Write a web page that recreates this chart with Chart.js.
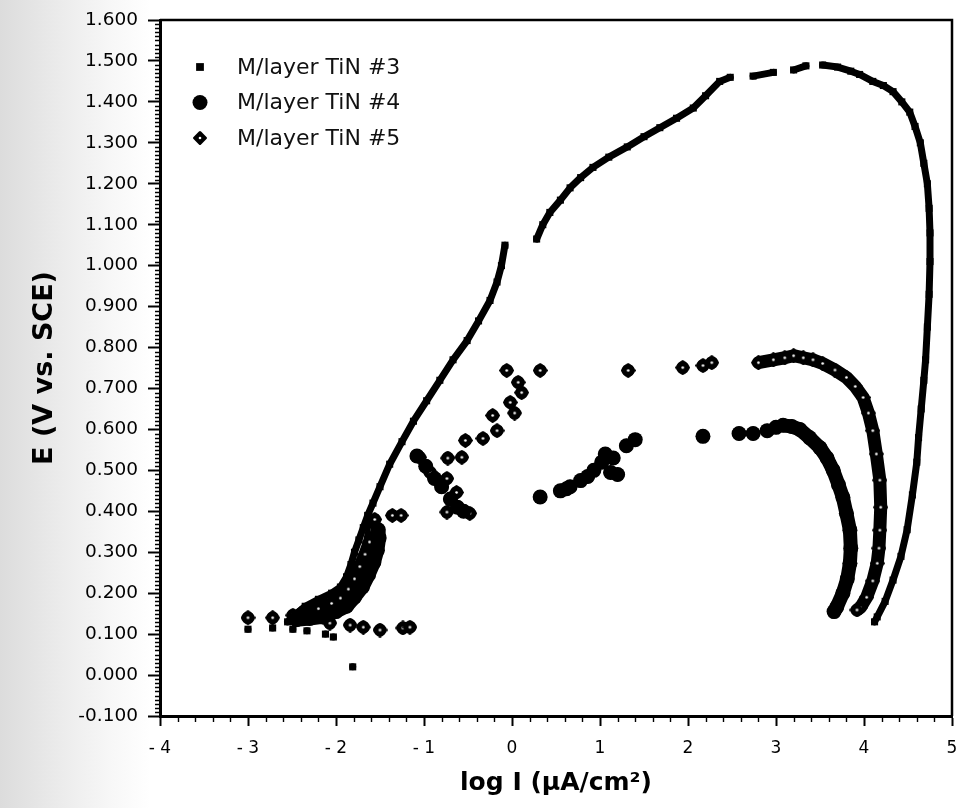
<!DOCTYPE html>
<html>
<head>
<meta charset="utf-8">
<script src="https://cdn.jsdelivr.net/npm/chart.js@4/dist/chart.umd.min.js"></script>
<style>
  html, body { margin: 0; padding: 0; }
  body {
    width: 961px; height: 808px; overflow: hidden;
    background: linear-gradient(90deg, #dcdcdc 0px, #eaeaea 55px, #f7f7f7 110px, #ffffff 150px);
  }
  canvas { display: block; }
</style>
</head>
<body>
<canvas id="polarization" width="961" height="808"></canvas>
<script>
// ---- Series names and axis tick labels ----
const seriesNames = ['M/layer TiN #3', 'M/layer TiN #4', 'M/layer TiN #5'];
const eTickLabels = ['-0.100', '0.000', '0.100', '0.200', '0.300', '0.400', '0.500', '0.600', '0.700',
                     '0.800', '0.900', '1.000', '1.100', '1.200', '1.300', '1.400', '1.500', '1.600'];
const logITickLabels = ['- 4', '- 3', '- 2', '- 1', '0', '1', '2', '3', '4', '5'];

// ---- M/layer TiN #3 : [log I, E] ----
const tin3Scatter = [[-3.00, 0.112], [-2.72, 0.115], [-2.49, 0.112], [-2.33, 0.108], [-2.12, 0.100],
                     [-2.03, 0.093], [-1.81, 0.020]];
const tin3Rise = [[-2.55, 0.130], [-2.45, 0.150], [-2.35, 0.168], [-2.20, 0.185], [-2.05, 0.200],
                  [-1.95, 0.215], [-1.88, 0.240], [-1.83, 0.270], [-1.79, 0.300], [-1.74, 0.330],
                  [-1.69, 0.360], [-1.64, 0.390], [-1.58, 0.420], [-1.50, 0.460], [-1.39, 0.515],
                  [-1.25, 0.570], [-1.12, 0.620], [-0.97, 0.670], [-0.82, 0.720], [-0.67, 0.770],
                  [-0.51, 0.817], [-0.38, 0.865], [-0.25, 0.915], [-0.17, 0.960], [-0.12, 1.000],
                  [-0.08, 1.050]];
const tin3Upper = [[0.28, 1.065], [0.35, 1.100], [0.43, 1.130], [0.55, 1.160], [0.66, 1.190],
                   [0.78, 1.215], [0.92, 1.240], [1.10, 1.265], [1.31, 1.290], [1.50, 1.315],
                   [1.68, 1.337], [1.87, 1.360], [2.06, 1.385], [2.20, 1.415], [2.36, 1.450],
                   [2.48, 1.460]];
const tin3Dash1 = [[2.74, 1.463], [2.97, 1.472]];
const tin3Dash2 = [[3.20, 1.478], [3.34, 1.488]];
const tin3Return = [[3.53, 1.490], [3.70, 1.485], [3.85, 1.475], [3.95, 1.467], [4.10, 1.450],
                    [4.22, 1.440], [4.33, 1.425], [4.43, 1.400], [4.52, 1.375], [4.58, 1.340],
                    [4.64, 1.300], [4.68, 1.250], [4.72, 1.200], [4.74, 1.140], [4.75, 1.080],
                    [4.75, 1.010], [4.74, 0.930], [4.72, 0.850], [4.70, 0.770], [4.68, 0.720],
                    [4.65, 0.650], [4.62, 0.580], [4.60, 0.520], [4.55, 0.440], [4.49, 0.355],
                    [4.42, 0.290], [4.33, 0.232], [4.24, 0.180], [4.15, 0.142], [4.12, 0.130]];

// ---- M/layer TiN #4 : [log I, E] ----
const tin4Rise = [[-2.45, 0.135], [-2.30, 0.138], [-2.15, 0.142], [-2.00, 0.155], [-1.88, 0.168],
                  [-1.79, 0.190], [-1.70, 0.215], [-1.63, 0.245], [-1.57, 0.275], [-1.53, 0.305],
                  [-1.51, 0.335], [-1.52, 0.355]];
const tin4Scatter = [[-1.08, 0.535], [-0.98, 0.510], [-0.88, 0.480], [-0.80, 0.460], [-0.70, 0.430],
                     [-0.62, 0.410], [-0.55, 0.400], [0.32, 0.435], [0.55, 0.450], [0.62, 0.455],
                     [0.66, 0.460], [0.78, 0.475], [0.86, 0.485], [0.93, 0.500], [1.02, 0.520],
                     [1.06, 0.540], [1.12, 0.495], [1.20, 0.490], [1.15, 0.530], [1.30, 0.560],
                     [1.40, 0.575], [2.17, 0.583], [2.58, 0.590], [2.74, 0.590], [2.90, 0.597],
                     [3.00, 0.605]];
const tin4Return = [[3.08, 0.610], [3.18, 0.607], [3.27, 0.600], [3.38, 0.580], [3.50, 0.555],
                    [3.58, 0.530], [3.65, 0.500], [3.71, 0.465], [3.76, 0.434], [3.80, 0.395],
                    [3.84, 0.354], [3.85, 0.310], [3.84, 0.273], [3.81, 0.235], [3.76, 0.200],
                    [3.69, 0.166], [3.66, 0.155]];

// ---- M/layer TiN #5 : [log I, E] ----
const tin5Base = [[-3.00, 0.140], [-2.72, 0.140], [-2.49, 0.146], [-2.07, 0.127], [-1.84, 0.122],
                  [-1.69, 0.117], [-1.50, 0.110], [-1.24, 0.115], [-1.16, 0.117]];
const tin5Rise = [[-2.40, 0.150], [-2.20, 0.162], [-2.05, 0.175], [-1.95, 0.188], [-1.86, 0.210],
                  [-1.79, 0.235], [-1.73, 0.265], [-1.67, 0.295], [-1.62, 0.325], [-1.59, 0.355],
                  [-1.56, 0.380]];
const tin5Scatter = [[-1.36, 0.390], [-1.26, 0.390], [-1.05, 0.532], [-0.93, 0.495], [-0.74, 0.480],
                     [-0.73, 0.530], [-0.63, 0.446], [-0.74, 0.398], [-0.48, 0.395], [-0.57, 0.532],
                     [-0.53, 0.573], [-0.33, 0.578], [-0.22, 0.634], [-0.17, 0.597], [-0.02, 0.666],
                     [0.03, 0.640], [0.11, 0.690], [0.07, 0.715], [-0.06, 0.744], [0.32, 0.744],
                     [1.32, 0.744], [1.94, 0.751], [2.17, 0.756], [2.27, 0.763]];
const tin5Return = [[2.80, 0.763], [2.97, 0.770], [3.10, 0.775], [3.20, 0.780], [3.31, 0.775],
                    [3.42, 0.770], [3.53, 0.761], [3.67, 0.745], [3.80, 0.727], [3.90, 0.705],
                    [3.99, 0.678], [4.05, 0.640], [4.10, 0.597], [4.14, 0.540], [4.18, 0.476],
                    [4.19, 0.410], [4.18, 0.354], [4.17, 0.310], [4.15, 0.273], [4.10, 0.230],
                    [4.03, 0.190], [3.96, 0.165], [3.92, 0.159]];

// ---- helpers ----
const FONT = "'DejaVu Sans', 'Liberation Sans', sans-serif";
const GAP = null;

// Continuous sweep: points joined by the trace line.
function sweep(run) { return run.map(p => ({ x: p[0], y: p[1] })); }
// Isolated readings: a break after every point so no line joins them.
function dots(run) {
  const out = [];
  run.forEach(p => { out.push({ x: p[0], y: p[1] }); out.push({ x: p[0], y: GAP }); });
  return out;
}
function series(parts) {
  const out = [];
  parts.forEach(part => { out.push(...part); const last = part[part.length - 1]; out.push({ x: last.x, y: GAP }); });
  return out;
}

// Diamond marker with a white centre dot.
function dottedDiamond(size) {
  const c = document.createElement('canvas');
  c.width = c.height = size;
  const g = c.getContext('2d');
  const h = size / 2;
  g.fillStyle = '#000'; g.strokeStyle = '#000';
  g.lineJoin = 'round'; g.lineWidth = 3;
  g.beginPath();
  g.moveTo(h, 1.6); g.lineTo(size - 1.6, h); g.lineTo(h, size - 1.6); g.lineTo(1.6, h);
  g.closePath(); g.fill(); g.stroke();
  g.fillStyle = '#fff';
  g.beginPath(); g.arc(h, h, 1.3, 0, Math.PI * 2); g.fill();
  return c;
}
const diamondMark = dottedDiamond(15);
const diamondLegend = dottedDiamond(14);

// Minor tick marks on both axes.
const minorTicks = {
  id: 'minorTicks',
  afterDraw(chart) {
    const { ctx, chartArea: a, scales: { x, y } } = chart;
    ctx.save();
    ctx.strokeStyle = '#000';
    ctx.lineWidth = 1.4;
    ctx.beginPath();
    for (let k = -10; k <= 160; k++) {
      if (k % 10 === 0) continue;
      const py = Math.round(y.getPixelForValue(k / 100)) + 0.5;
      ctx.moveTo(a.left - 5, py); ctx.lineTo(a.left, py);
    }
    for (let k = -20; k <= 25; k++) {
      if (k % 5 === 0) continue;
      const px = Math.round(x.getPixelForValue(k / 5)) + 0.5;
      ctx.moveTo(px, a.bottom); ctx.lineTo(px, a.bottom + 6);
    }
    ctx.stroke();
    ctx.restore();
  }
};

// Top and right edges of the plot frame.
const frame = {
  id: 'frame',
  afterDraw(chart) {
    const { ctx, chartArea: a } = chart;
    ctx.save();
    ctx.strokeStyle = '#000';
    ctx.lineWidth = 2.5;
    ctx.beginPath();
    ctx.moveTo(a.left, a.top); ctx.lineTo(a.right, a.top); ctx.lineTo(a.right, a.bottom);
    ctx.stroke();
    ctx.restore();
  }
};

// Legend inside the upper-left corner of the plot.
const insetLegend = {
  id: 'insetLegend',
  afterDraw(chart) {
    const { ctx, chartArea: a } = chart;
    ctx.save();
    chart.data.datasets.forEach((ds, i) => {
      const cy = a.top + 47 + i * 35.5;
      const cx = a.left + 40;
      ctx.fillStyle = '#000';
      ctx.strokeStyle = '#000';
      Chart.helpers.drawPoint(ctx, {
        pointStyle: ds.legendStyle, radius: ds.legendRadius, borderWidth: 0, rotation: 0
      }, cx, cy);
      ctx.fillStyle = '#111';
      ctx.font = '22px ' + FONT;
      ctx.textBaseline = 'middle';
      ctx.textAlign = 'left';
      ctx.fillText(ds.label, a.left + 77, cy + 1);
    });
    ctx.restore();
  }
};

const common = {
  showLine: true,
  spanGaps: false,
  borderColor: '#000',
  backgroundColor: '#000',
  pointBorderWidth: 0,
  pointHoverRadius: 0,
  borderJoinStyle: 'round',
  borderCapStyle: 'round',
  tension: 0
};

new Chart(document.getElementById('polarization'), {
  type: 'scatter',
  data: {
    datasets: [
      Object.assign({}, common, {
        label: seriesNames[0],
        data: series([dots(tin3Scatter), sweep(tin3Rise), sweep(tin3Upper), sweep(tin3Dash1),
                      sweep(tin3Dash2), sweep(tin3Return)]),
        borderWidth: 7, pointStyle: 'rect', pointRadius: 5,
        legendStyle: 'rect', legendRadius: 5.5
      }),
      Object.assign({}, common, {
        label: seriesNames[1],
        data: series([sweep(tin4Rise), dots(tin4Scatter), sweep(tin4Return)]),
        borderWidth: 14, pointStyle: 'circle', pointRadius: 7.5,
        legendStyle: 'circle', legendRadius: 7.5
      }),
      Object.assign({}, common, {
        label: seriesNames[2],
        data: series([dots(tin5Base), sweep(tin5Rise), dots(tin5Scatter), sweep(tin5Return)]),
        borderWidth: 13, pointStyle: diamondMark, pointRadius: 7,
        legendStyle: diamondLegend, legendRadius: 7
      })
    ]
  },
  options: {
    responsive: false,
    animation: false,
    devicePixelRatio: 1,
    layout: { padding: { top: 20, right: 9, left: 0, bottom: 0 } },
    plugins: { legend: { display: false }, tooltip: { enabled: false } },
    scales: {
      x: {
        type: 'linear', position: 'bottom', min: -4, max: 5,
        ticks: {
          stepSize: 1, autoSkip: false, maxRotation: 0, padding: 12, color: '#000',
          font: { family: FONT, size: 17 },
          callback: v => logITickLabels[Math.round(v + 4)]
        },
        grid: { display: true, drawOnChartArea: false, drawTicks: true, tickLength: 10, tickWidth: 2, tickColor: '#000' },
        border: { display: true, color: '#000', width: 3 },
        title: {
          display: true, text: 'log I (\u03bcA/cm\u00b2)', color: '#000',
          font: { family: FONT, size: 25, weight: 'bold' }, padding: { top: 0, bottom: 10 }
        },
        afterFit(s) { s.height = 92; s.paddingLeft = 0; s.paddingRight = 0; }
      },
      y: {
        type: 'linear', position: 'left', min: -0.1, max: 1.6,
        ticks: {
          stepSize: 0.1, autoSkip: false, padding: 10, color: '#000',
          font: { family: FONT, size: 18.5 },
          callback: v => eTickLabels[Math.round((v + 0.1) * 10)]
        },
        grid: { display: true, drawOnChartArea: false, drawTicks: true, tickLength: 12, tickWidth: 2, tickColor: '#000' },
        border: { display: true, color: '#000', width: 3 },
        title: {
          display: true, text: 'E (V vs. SCE)', color: '#000',
          font: { family: FONT, size: 27, weight: 'bold' }, padding: { top: 29, bottom: 0 }
        },
        afterFit(s) { s.width = 160; s.paddingTop = 0; s.paddingBottom = 0; }
      }
    }
  },
  plugins: [minorTicks, frame, insetLegend]
});
</script>
</body>
</html>
